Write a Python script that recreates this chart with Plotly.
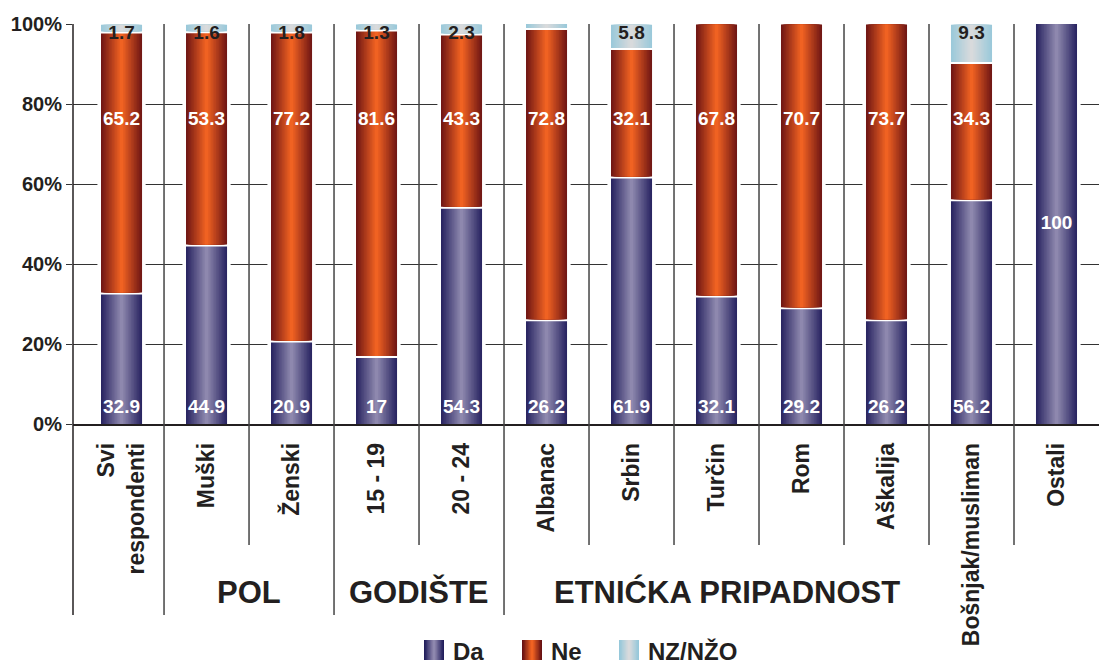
import plotly.graph_objects as go

# ---------------- data ----------------
categories = ["Svi<br>respondenti", "Muški", "Ženski", "15 - 19", "20 - 24", "Albanac",
              "Srbin", "Turčin", "Rom", "Aškalija", "Bošnjak/musliman", "Ostali"]
groups = ["", "POL", "POL", "GODIŠTE", "GODIŠTE"] + ["ETNIĆKA PRIPADNOST"] * 7
series_names = ["Da", "Ne", "NZ/NŽO"]
da = [32.9, 44.9, 20.9, 17, 54.3, 26.2, 61.9, 32.1, 29.2, 26.2, 56.2, 100]
ne = [65.2, 53.3, 77.2, 81.6, 43.3, 72.8, 32.1, 67.8, 70.7, 73.7, 34.3, 0]
nz = [1.7, 1.6, 1.8, 1.3, 2.3, 1.0, 5.8, 0, 0, 0, 9.3, 0]
y_ticks = [0, 20, 40, 60, 80, 100]
y_tick_labels = ["0%", "20%", "40%", "60%", "80%", "100%"]

# ---------------- style ----------------
FONT = "Liberation Sans"
TXT = "#231f20"
GRADS = [((34, 30, 92), (142, 136, 174)),     # Da
         ((104, 18, 20), (240, 98, 34)),      # Ne
         ((150, 200, 218), (216, 218, 220))]  # NZ
N_STRIPES = 14
BAR_W = 0.52
L, T, PW, PH = 73, 24, 1026, 400
X0, X1 = -0.571, 11.5


def lerp(c1, c2, t):
    return "rgb(%d,%d,%d)" % tuple(round(a + (b - a) * t) for a, b in zip(c1, c2))


def paper_x_from_data(xv):
    return (xv - X0) / (X1 - X0)


def paper_x_from_px(px):
    return (px - L) / PW


def paper_y_from_px(py):
    return (T + PH - py) / PH


xs = list(range(len(categories)))
bases = [[0] * len(da), da, [d + n for d, n in zip(da, ne)]]
vals = [da, ne, nz]

fig = go.Figure()
for s, name in enumerate(series_names):
    edge, center = GRADS[s]
    yv = [v if v > 0 else None for v in vals[s]]
    for k in range(N_STRIPES):
        t = k / (N_STRIPES - 1)
        fig.add_trace(go.Bar(
            x=xs, y=yv, base=bases[s], width=BAR_W * (1 - k / N_STRIPES),
            name=name, legendgroup=name, showlegend=False, hoverinfo="skip",
            marker=dict(color=lerp(edge, center, t),
                        line=dict(width=4 if k == 0 else 0, color="white")),
        ))

# value labels
lab_font = dict(family=FONT, size=19, weight="bold")
fig.add_trace(go.Scatter(
    x=xs, y=[50 if d >= 100 else 4 for d in da], mode="text",
    text=[f"{d:g}" for d in da], textfont=dict(lab_font, color="white"),
    showlegend=False, hoverinfo="skip"))
fig.add_trace(go.Scatter(
    x=xs, y=[76] * len(ne), mode="text",
    text=[f"{n:g}" if n > 0 else "" for n in ne], textfont=dict(lab_font, color="white"),
    showlegend=False, hoverinfo="skip"))
fig.add_trace(go.Scatter(
    x=xs, y=[97.5] * len(nz), mode="text",
    text=[f"{z:g}" if z >= 1.2 else "" for z in nz], textfont=dict(lab_font, color=TXT),
    showlegend=False, hoverinfo="skip"))

# divider lines
shapes = [dict(type="line", xref="paper", yref="paper", x0=0, x1=0, y0=1,
               y1=paper_y_from_px(615), line=dict(color=TXT, width=1.5))]
for i in range(len(categories) - 1):
    long_line = groups[i] != groups[i + 1]
    bottom = 615 if long_line else 545
    xp = paper_x_from_data(i + 0.5)
    shapes.append(dict(type="line", xref="paper", yref="paper", x0=xp, x1=xp, y0=1,
                       y1=paper_y_from_px(bottom), line=dict(color="#444", width=1.5)))

# custom legend
annotations = []
leg_x = [424, 522, 619]
M = 7
for s, name in enumerate(series_names):
    edge, center = GRADS[s]
    for k in range(M):
        d = k * 10 / M
        shapes.append(dict(type="rect", xref="paper", yref="paper",
                           x0=paper_x_from_px(leg_x[s] + d), x1=paper_x_from_px(leg_x[s] + 20 - d),
                           y0=paper_y_from_px(660), y1=paper_y_from_px(640),
                           fillcolor=lerp(edge, center, k / (M - 1)), line=dict(width=0)))
    annotations.append(dict(text=name, xref="paper", yref="paper",
                            x=paper_x_from_px(leg_x[s] + 27), y=paper_y_from_px(651),
                            xanchor="left", yanchor="middle", showarrow=False,
                            font=dict(family=FONT, size=24, weight="bold", color=TXT)))

# group labels
group_pos = {"POL": 1.5, "GODIŠTE": 3.5, "ETNIĆKA PRIPADNOST": 7.12}
for g, gx in group_pos.items():
    annotations.append(dict(text=g, xref="x", yref="paper", x=gx, y=paper_y_from_px(592),
                            xanchor="center", yanchor="middle", showarrow=False,
                            font=dict(family=FONT, size=31, weight="bold", color=TXT)))

fig.update_layout(
    width=1099, height=664, margin=dict(l=L, r=0, t=T, b=664 - T - PH),
    paper_bgcolor="white", plot_bgcolor="white", barmode="overlay", showlegend=False,
    font=dict(family=FONT, color=TXT), shapes=shapes, annotations=annotations,
)
fig.update_xaxes(range=[X0, X1], tickvals=xs, ticktext=categories, tickangle=-90,
                 tickfont=dict(family=FONT, size=23, weight="bold", color=TXT),
                 ticklabelstandoff=8, showgrid=False, zeroline=False, ticks="",
                 showline=True, linecolor=TXT, linewidth=1.5)
fig.update_yaxes(range=[0, 100], tickvals=y_ticks, ticktext=y_tick_labels,
                 tickfont=dict(family=FONT, size=20, weight="bold", color=TXT),
                 showgrid=True, gridcolor="#333", gridwidth=1, zeroline=False,
                 ticks="outside", ticklen=6, tickcolor="#333", showline=False)

fig.write_html("out.html", config={"displayModeBar": False},
               post_script="document.body.style.margin='0';")
